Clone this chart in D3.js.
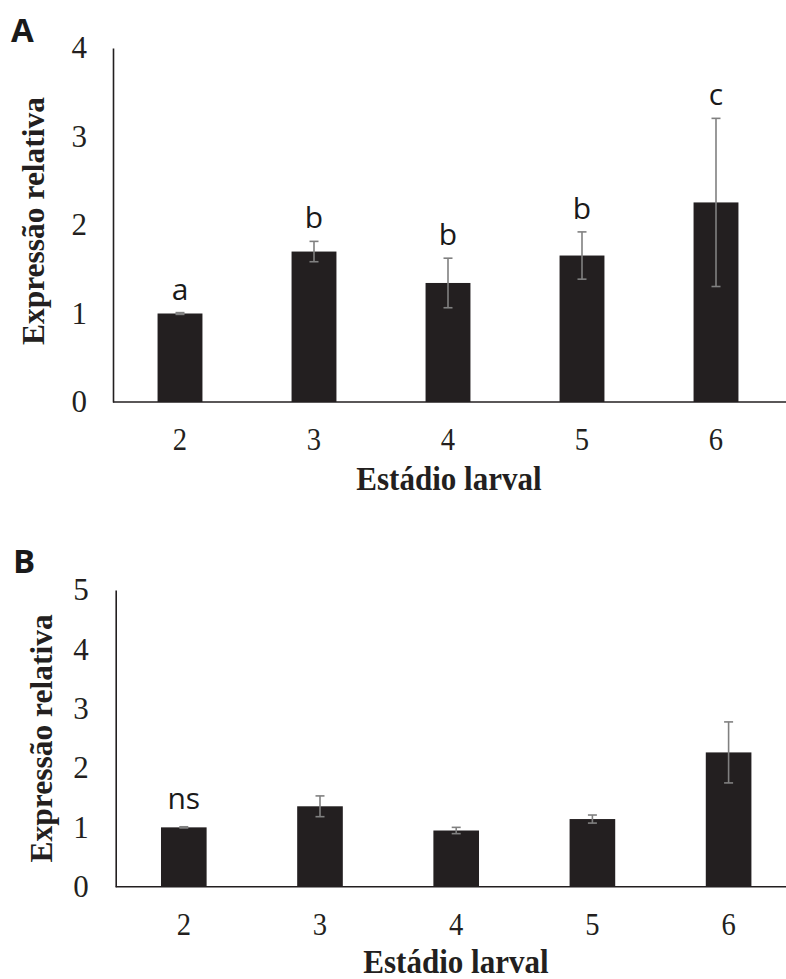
<!DOCTYPE html>
<html>
<head>
<meta charset="utf-8">
<script src="https://cdn.jsdelivr.net/npm/d3@7"></script>
<style>
  html, body { margin: 0; padding: 0; background: #fff; }
  svg { display: block; }
</style>
</head>
<body>
<svg id="chart" width="786" height="979"></svg>
<script>
// Larval stages on the x axis
const stages = ["2", "3", "4", "5", "6"];

// Panel A: relative expression, error and significance letters
const meansA = [1.00, 1.70, 1.345, 1.655, 2.255];
const errorsA = [0.01, 0.115, 0.28, 0.267, 0.95];
const lettersA = ["a", "b", "b", "b", "c"];
const ticksA = [0, 1, 2, 3, 4];

// Panel B
const meansB = [1.00, 1.355, 0.947, 1.14, 2.263];
const errorsB = [0.01, 0.175, 0.053, 0.068, 0.514];
const lettersB = ["ns", "", "", "", ""];
const ticksB = [0, 1, 2, 3, 4, 5];

const yTitle = "Expressão relativa";
const xTitle = "Estádio larval";

const svg = d3.select("#chart");
const serif = "'Liberation Serif', 'Times New Roman', serif";
const sans = "'Open Sans', 'Noto Sans', sans-serif";
const barColor = "#231f20";
const errColor = "#808080";
const axisColor = "#231f20";

function panel(cfg) {
  const g = svg.append("g");
  const data = stages.map((s, i) => ({
    stage: s, mean: cfg.means[i], err: cfg.errors[i], letter: cfg.letters[i]
  }));

  const x = d3.scaleBand()
    .domain(stages)
    .range([cfg.left, cfg.right])
    .paddingInner(0.665)
    .paddingOuter(0.3325);

  const y = d3.scaleLinear()
    .domain([0, d3.max(cfg.ticks)])
    .range([cfg.bottom, cfg.top]);

  // bars
  g.selectAll("rect.bar")
    .data(data)
    .join("rect")
    .attr("class", "bar")
    .attr("x", d => x(d.stage))
    .attr("y", d => y(d.mean))
    .attr("width", x.bandwidth())
    .attr("height", d => y(0) - y(d.mean))
    .attr("fill", barColor);

  // error bars
  const cap = 4.5;
  const eb = g.selectAll("g.err")
    .data(data)
    .join("g")
    .attr("class", "err")
    .attr("stroke", errColor)
    .attr("stroke-width", 1.6);
  eb.append("line")
    .attr("x1", d => x(d.stage) + x.bandwidth() / 2)
    .attr("x2", d => x(d.stage) + x.bandwidth() / 2)
    .attr("y1", d => y(d.mean + d.err))
    .attr("y2", d => y(d.mean - d.err));
  eb.append("line")
    .attr("x1", d => x(d.stage) + x.bandwidth() / 2 - cap)
    .attr("x2", d => x(d.stage) + x.bandwidth() / 2 + cap)
    .attr("y1", d => y(d.mean + d.err))
    .attr("y2", d => y(d.mean + d.err));
  eb.append("line")
    .attr("x1", d => x(d.stage) + x.bandwidth() / 2 - cap)
    .attr("x2", d => x(d.stage) + x.bandwidth() / 2 + cap)
    .attr("y1", d => y(d.mean - d.err))
    .attr("y2", d => y(d.mean - d.err));

  // significance letters
  g.selectAll("text.letter")
    .data(data.filter(d => d.letter))
    .join("text")
    .attr("class", "letter")
    .attr("x", d => x(d.stage) + x.bandwidth() / 2)
    .attr("y", d => y(d.mean + d.err) - cfg.letterGap)
    .attr("text-anchor", "middle")
    .attr("font-family", sans)
    .attr("font-size", 30)
    .attr("fill", "#1a1a1a")
    .text(d => d.letter);

  // y axis
  const ya = g.append("g")
    .attr("transform", `translate(${cfg.left},0)`)
    .call(d3.axisLeft(y).tickValues(cfg.ticks).tickFormat(d3.format("d"))
      .tickSize(0).tickSizeOuter(0).tickPadding(cfg.yPad));
  ya.select(".domain").attr("stroke", axisColor).attr("stroke-width", 1.6);
  ya.selectAll(".tick text")
    .attr("font-family", serif)
    .attr("font-size", 31)
    .attr("fill", "#231f20");

  // x axis
  const xa = g.append("g")
    .attr("transform", `translate(0,${cfg.bottom})`)
    .call(d3.axisBottom(x).tickSize(0).tickSizeOuter(0));
  xa.select(".domain")
    .attr("stroke", axisColor).attr("stroke-width", 1.6)
    .attr("d", `M${cfg.left},0H${Math.max(cfg.right, 786)}`);
  xa.selectAll(".tick text")
    .attr("y", 48)
    .attr("dy", 0)
    .attr("font-family", serif)
    .attr("font-size", 32.5)
    .attr("fill", "#231f20")
    .attr("transform", "scale(0.88,1)");

  // axis titles
  g.append("text")
    .attr("transform", `translate(${cfg.yTitleX},${(cfg.top + cfg.bottom) / 2 + cfg.yTitleShift}) rotate(-90)`)
    .attr("text-anchor", "middle")
    .attr("font-family", serif)
    .attr("font-weight", "bold")
    .attr("font-size", 31.5)
    .attr("fill", "#231f20")
    .text(yTitle);

  g.append("text")
    .attr("transform", `translate(${cfg.xTitleX},${cfg.xTitleY}) scale(0.9,1)`)
    .attr("text-anchor", "middle")
    .attr("font-family", serif)
    .attr("font-weight", "bold")
    .attr("font-size", 34.5)
    .attr("fill", "#231f20")
    .text(xTitle);

  // panel tag
  g.append("text")
    .attr("x", cfg.tagX)
    .attr("y", cfg.tagY)
    .attr("font-family", sans)
    .attr("font-weight", "bold")
    .attr("font-size", 33)
    .attr("fill", "#1a1a1a")
    .text(cfg.tag);
}

panel({
  means: meansA, errors: errorsA, letters: lettersA, ticks: ticksA,
  left: 113, right: 783, top: 48, bottom: 402,
  yPad: 26, letterGap: 13,
  yTitleX: 43.5, yTitleShift: -4, xTitleX: 449, xTitleY: 490,
  tag: "A", tagX: 11, tagY: 41.7
});

panel({
  means: meansB, errors: errorsB, letters: lettersB, ticks: ticksB,
  left: 115.7, right: 796.7, top: 590, bottom: 886.7,
  yPad: 27, letterGap: 18,
  yTitleX: 52, yTitleShift: 0, xTitleX: 456, xTitleY: 973,
  tag: "B", tagX: 13, tagY: 573.3
});
</script>
</body>
</html>
